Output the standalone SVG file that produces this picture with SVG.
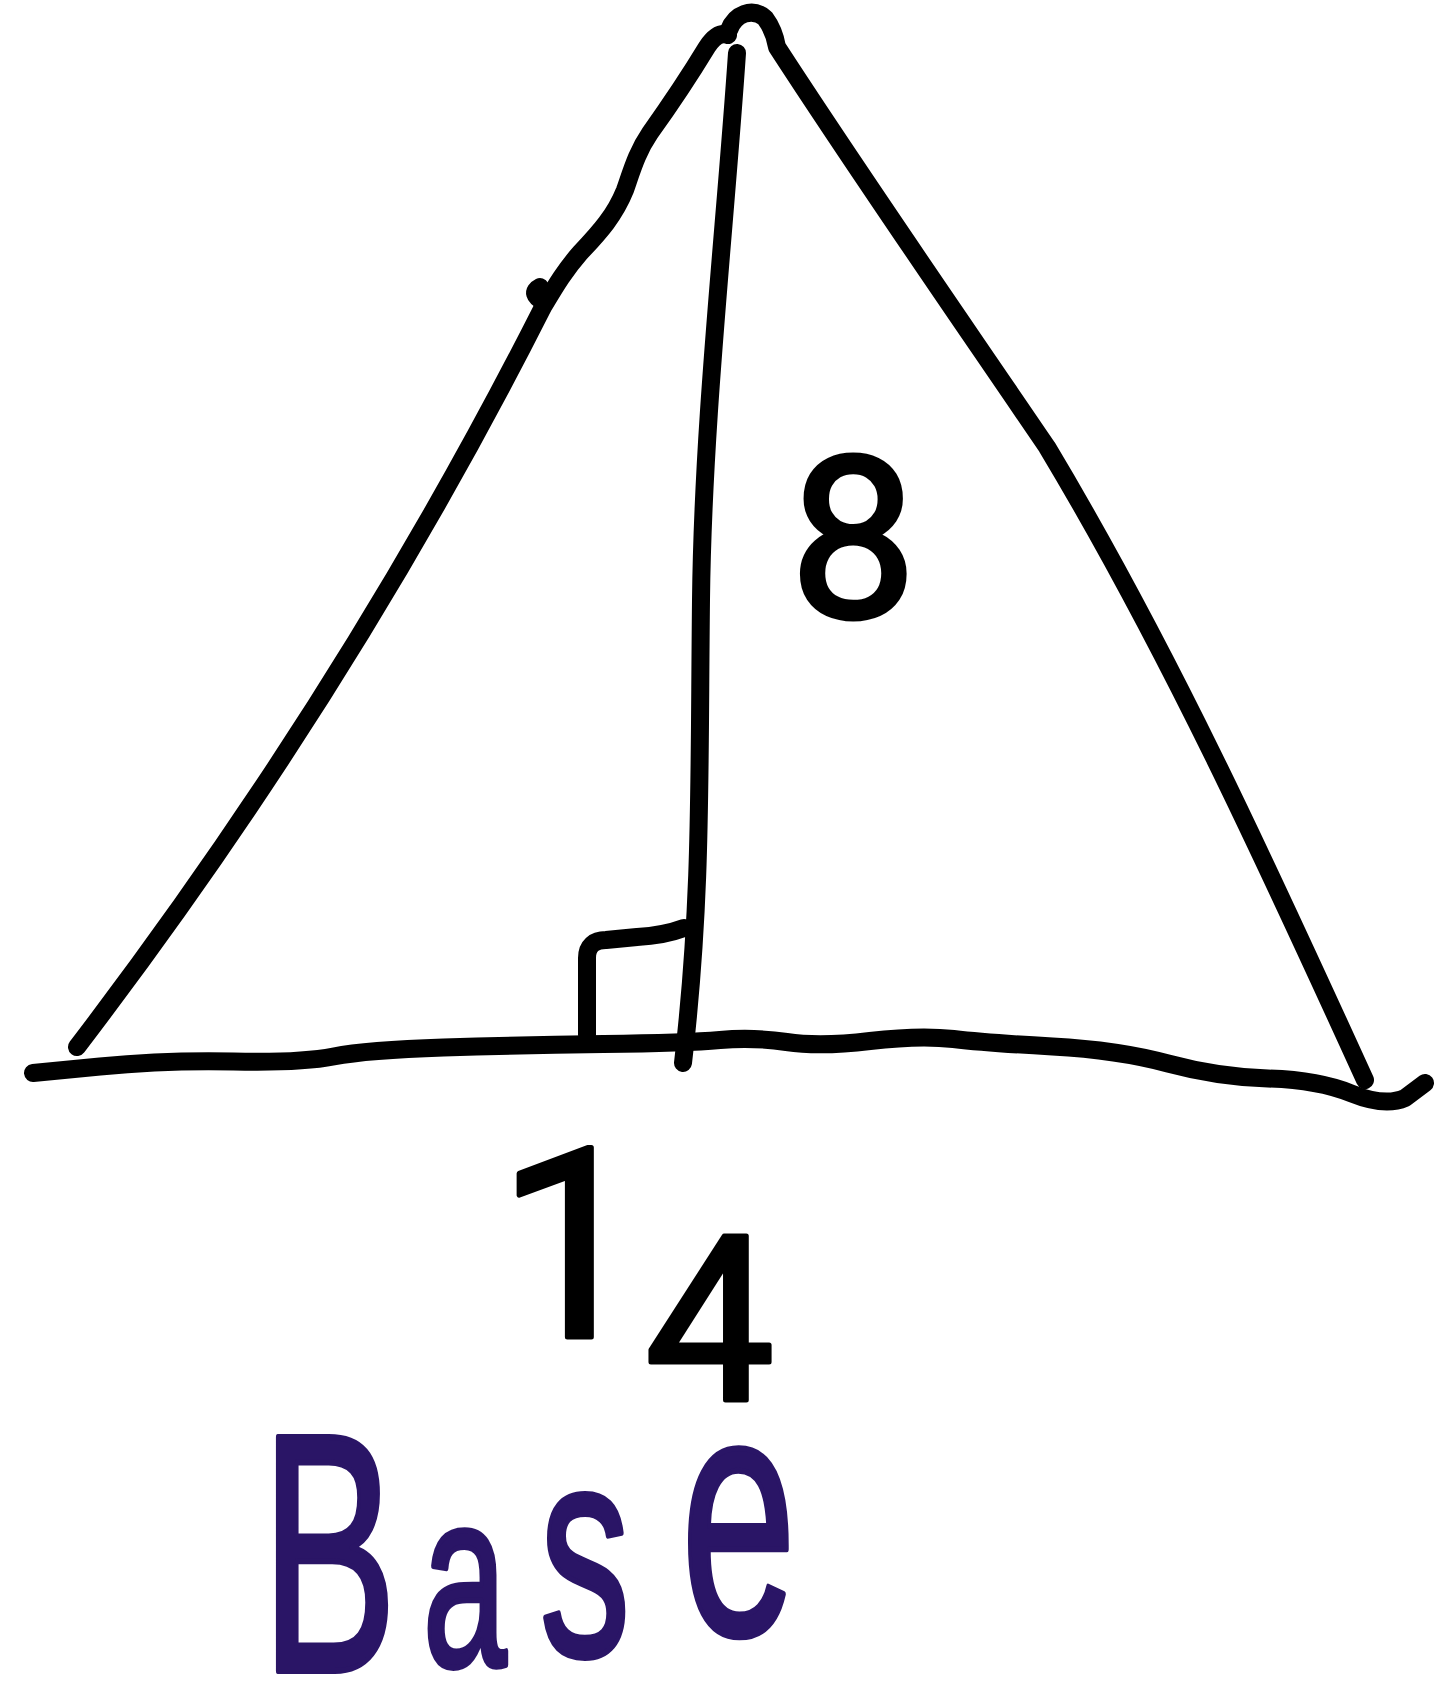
<svg xmlns="http://www.w3.org/2000/svg" width="1438" height="1685" viewBox="0 0 1438 1685">
<style>
.ink{fill:none;stroke:#000;stroke-linecap:round;stroke-linejoin:round;stroke-width:18}
.lbl{font-family:Roboto,"Liberation Sans",Arial,sans-serif;fill:#000;stroke:#000;stroke-width:5;stroke-linejoin:round}
.base{font-family:"Liberation Sans",Arial,sans-serif;fill:#2a1566;stroke:#2a1566;stroke-width:6;stroke-linejoin:round}
</style>
<rect width="1438" height="1685" fill="#fff"/>
<g id="connectors">
<path id="left-side" class="ink" d="M77,1047 C255,814 411,568 543,307 C555,287 565,270 580,253 C600,232 615,215 625,190 C632,170 637,152 650,133 C670,105 690,75 707,47 C713,38 720,32 728,35"/>
<path id="tick" class="ink" stroke-width="12" d="M544,302 C534,297 532,291 540,287"/>
<path id="right-side" class="ink" d="M729,30 C735,14 752,7 765,18 Q774,30 777,47 C860,175 940,290 1047,447 C1167,647 1267,865 1365,1080"/>
<path id="altitude" class="ink" d="M737,53 C725,230 703,420 701,600 C699,780 702,900 683,1063"/>
<path id="right-angle" class="ink" d="M587,1035 L587,958 C587,946 594,940 606,940 L637,937 C655,936 668,934 684,928"/>
<path id="base-line" class="ink" stroke-width="20" d="M33,1073 L100,1066.5 Q167,1060 233.5,1061.5 Q300,1063 333.5,1056.5 Q367,1050 443.5,1047.5 Q520,1045 603.5,1044 Q687,1043 720,1040 Q753,1037 786.5,1042 Q820,1047 870,1041 Q920,1035 953.5,1039 Q987,1043 1052.5,1046.5 Q1118,1050 1168,1063.5 Q1218,1077 1268,1078.5 Q1318,1080 1351.5,1093.5 Q1385,1107 1405,1098 L1425,1083"/>
</g>
<g id="label-8"><text class="lbl" x="790" y="617" font-size="225">8</text></g>
<g id="label-14"><text class="lbl"><tspan x="497" y="1337" font-size="265">1</tspan><tspan x="645" y="1400" font-size="230">4</tspan></text></g>
<g id="label-base" transform="scale(0.6,1)">
<text class="base"><tspan x="435" y="1671" font-size="340">B</tspan><tspan x="705" y="1666" font-size="250">a</tspan><tspan x="900" y="1655" font-size="300">s</tspan><tspan x="1135" y="1634" font-size="345">e</tspan></text>
</g>
</svg>
